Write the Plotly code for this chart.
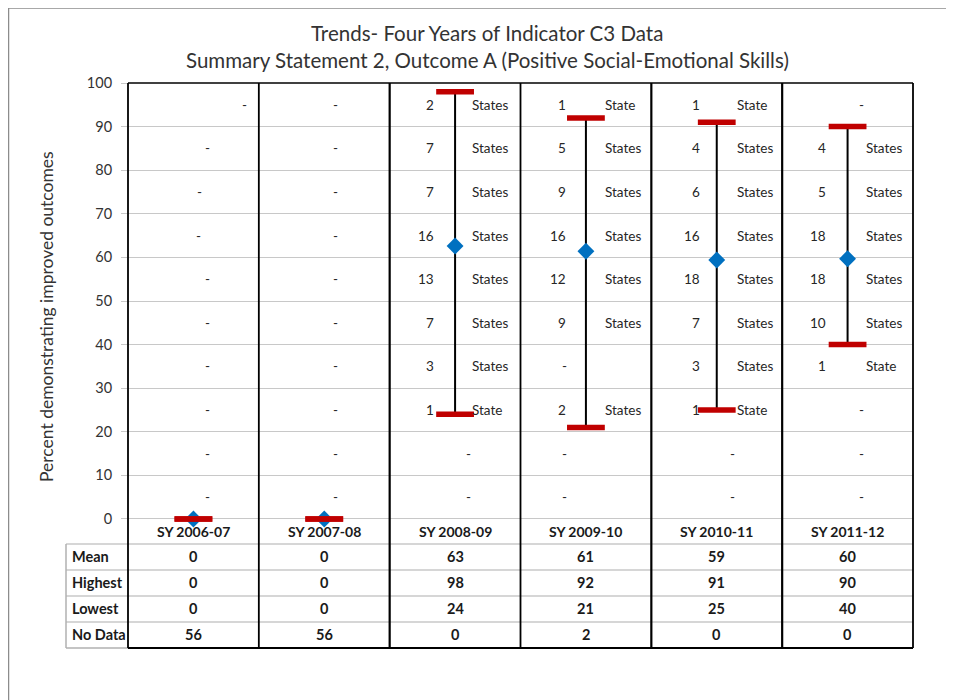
import plotly.graph_objects as go

# ---------------- data ----------------
years = ["SY 2006-07", "SY 2007-08", "SY 2008-09", "SY 2009-10", "SY 2010-11", "SY 2011-12"]
mean_pct = [0, 0, 62.6, 61.4, 59.4, 59.7]
highest = [0, 0, 98, 92, 91, 90]
lowest = [0, 0, 24, 21, 25, 40]
no_data = [56, 56, 0, 2, 0, 0]

# distribution of states per 10-point band (top band first); None = "-"
bin_mid = [95, 85, 75, 65, 55, 45, 35, 25, 15, 5]
dist_2006_07 = [None] * 10
dist_2007_08 = [None] * 10
dist_2008_09 = [2, 7, 7, 16, 13, 7, 3, 1, None, None]
dist_2009_10 = [1, 5, 9, 16, 12, 9, None, 2, None, None]
dist_2010_11 = [1, 4, 6, 16, 18, 7, 3, 1, None, None]
dist_2011_12 = [None, 4, 5, 18, 18, 10, 1, None, None, None]
dists = [dist_2006_07, dist_2007_08, dist_2008_09, dist_2009_10, dist_2010_11, dist_2011_12]

row_labels = ["Mean", "Highest", "Lowest", "No Data"]

# ---------------- style / layout constants ----------------
W, H = 954, 700
OFF = 8  # page body margin
# target page pixels: plot left 128, right 913, top 83, bottom 648
L, T = 128 - OFF, 83 - OFF
R = W - (913 - OFF)
B = H - (648 - OFF)
PW, PH = W - L - R, H - T - B
Y_MIN = -29.59
FONT = "Lato"
TXT = "#262626"

dash_dx = [[51, 14, 6, 5, 14, 14, 14, 14, 14, 14], [11] * 10, [13] * 10,
           [-21] * 10, [16] * 10, [14] * 10]
num_dx = [-18, -18, -19, -18, -15, -20]
word_dx = [15, 15, 15, 17, 18, 16]

def py(p):  # page pixel y -> paper y
    return (H - B - (p - OFF)) / PH

def px(p):  # page pixel x -> paper x
    return (p - OFF - L) / PW

fig = go.Figure()

# mean diamond with whisker line
fig.add_trace(go.Scatter(
    x=years, y=mean_pct, mode="markers",
    marker=dict(symbol="diamond", size=13, color="#0070C0"),
    error_y=dict(type="data", symmetric=False,
                 array=[h - m for h, m in zip(highest, mean_pct)],
                 arrayminus=[m - l for m, l in zip(mean_pct, lowest)],
                 color="black", thickness=2, width=0),
    showlegend=False, hoverinfo="skip"))
# highest / lowest caps
fig.add_trace(go.Scatter(
    x=years + years, y=highest + lowest, mode="markers",
    marker=dict(symbol="line-ew", size=27, line=dict(width=5.5, color="#C00000")),
    showlegend=False, hoverinfo="skip"))

ann = []
# distribution labels
for j, yr in enumerate(years):
    for i, v in enumerate(dists[j]):
        if v is None:
            ann.append(dict(x=yr, y=bin_mid[i], text="-", xanchor="center",
                            xshift=dash_dx[j][i], showarrow=False,
                            font=dict(family=FONT, size=13.5, color=TXT)))
        else:
            ann.append(dict(x=yr, y=bin_mid[i], text=str(v), xanchor="right",
                            xshift=num_dx[j], showarrow=False,
                            font=dict(family=FONT, size=13.5, color=TXT)))
            ann.append(dict(x=yr, y=bin_mid[i], text="State" if v == 1 else "States",
                            xanchor="left", xshift=word_dx[j], showarrow=False,
                            font=dict(family=FONT, size=13.5, color=TXT)))

# table rows (data units below 0)
row_edges = [0, -5.73, -11.7, -17.66, -23.62, Y_MIN]
row_centers = [(row_edges[k] + row_edges[k + 1]) / 2 for k in range(5)]
table_vals = [[int(m + 0.5) for m in mean_pct], highest, lowest, no_data]

for j, yr in enumerate(years):
    ann.append(dict(x=yr, y=row_centers[0], text="<b>%s</b>" % yr, showarrow=False,
                    font=dict(family=FONT, size=14, color="#1a1a1a")))
    for r in range(4):
        ann.append(dict(x=yr, y=row_centers[r + 1], text="<b>%s</b>" % table_vals[r][j],
                        showarrow=False, font=dict(family=FONT, size=14.5, color="#1a1a1a")))
for r, lab in enumerate(row_labels):
    ann.append(dict(xref="paper", x=px(70), y=row_centers[r + 1], yref="y",
                    text="<b>%s</b>" % lab, xanchor="left", yanchor="middle", showarrow=False,
                    font=dict(family=FONT, size=14.5, color="#1a1a1a")))

# titles
ann.append(dict(xref="paper", yref="paper", x=px(487), y=py(33),
                xanchor="center", yanchor="middle",
                text="Trends- Four Years of Indicator C3 Data", showarrow=False,
                font=dict(family=FONT, size=20.5, color="#333333")))
ann.append(dict(xref="paper", yref="paper", x=px(487), y=py(60),
                xanchor="center", yanchor="middle",
                text="Summary Statement 2, Outcome A (Positive Social-Emotional Skills)",
                showarrow=False, font=dict(family=FONT, size=20.5, color="#333333")))
ann.append(dict(xref="paper", yref="paper", x=px(46), y=py(317),
                xanchor="center", yanchor="middle",
                text="Percent demonstrating improved outcomes", textangle=-90,
                showarrow=False, font=dict(family=FONT, size=17.5, color="#333333")))

shapes = []
# outer frame
shapes.append(dict(type="rect", xref="paper", yref="paper",
                   x0=px(8.5), x1=px(W + 30), y0=py(H + 30), y1=py(8),
                   line=dict(color="#8C8C8C", width=1.5), fillcolor="rgba(0,0,0,0)", layer="below"))
# table gray lines
for p in [544, 570, 596, 622]:
    shapes.append(dict(type="line", xref="paper", yref="paper", x0=px(66), x1=1,
                       y0=py(p), y1=py(p), line=dict(color="#C8C8C8", width=1.5)))
shapes.append(dict(type="line", xref="paper", yref="paper", x0=px(66), x1=0,
                   y0=0, y1=0, line=dict(color="#B0B0B0", width=1.5)))
shapes.append(dict(type="line", xref="paper", yref="paper", x0=px(66), x1=px(66),
                   y0=0, y1=py(544), line=dict(color="#B0B0B0", width=1.5)))
# black frame / column separators
for k in range(7):
    shapes.append(dict(type="line", xref="paper", yref="paper", x0=k / 6, x1=k / 6,
                       y0=0, y1=1, line=dict(color="black", width=2.2 if k in (2, 4, 5) else 1.8),
                       layer="above"))
shapes.append(dict(type="line", xref="paper", yref="paper", x0=0, x1=1, y0=1, y1=1,
                   line=dict(color="black", width=1.5)))
shapes.append(dict(type="line", xref="paper", yref="paper", x0=0, x1=1, y0=0, y1=0,
                   line=dict(color="black", width=2)))

fig.update_layout(
    width=W, height=H, margin=dict(l=L, r=R, t=T, b=B),
    paper_bgcolor="white", plot_bgcolor="white",
    annotations=ann, shapes=shapes, showlegend=False,
    xaxis=dict(type="category", categoryorder="array", categoryarray=years,
               range=[-0.5, 5.5], showgrid=False, zeroline=False,
               showticklabels=False, ticks="", fixedrange=True),
    yaxis=dict(range=[Y_MIN, 100], tickvals=list(range(0, 101, 10)),
               showgrid=True, gridcolor="#C8C8C8", gridwidth=1.2, zeroline=False,
               ticks="outside", ticklen=6, tickcolor="#C8C8C8", ticklabelstandoff=6,
               tickfont=dict(family=FONT, size=14.5, color="#333333"), showline=False,
               fixedrange=True),
)

fig.write_html("out.html")
